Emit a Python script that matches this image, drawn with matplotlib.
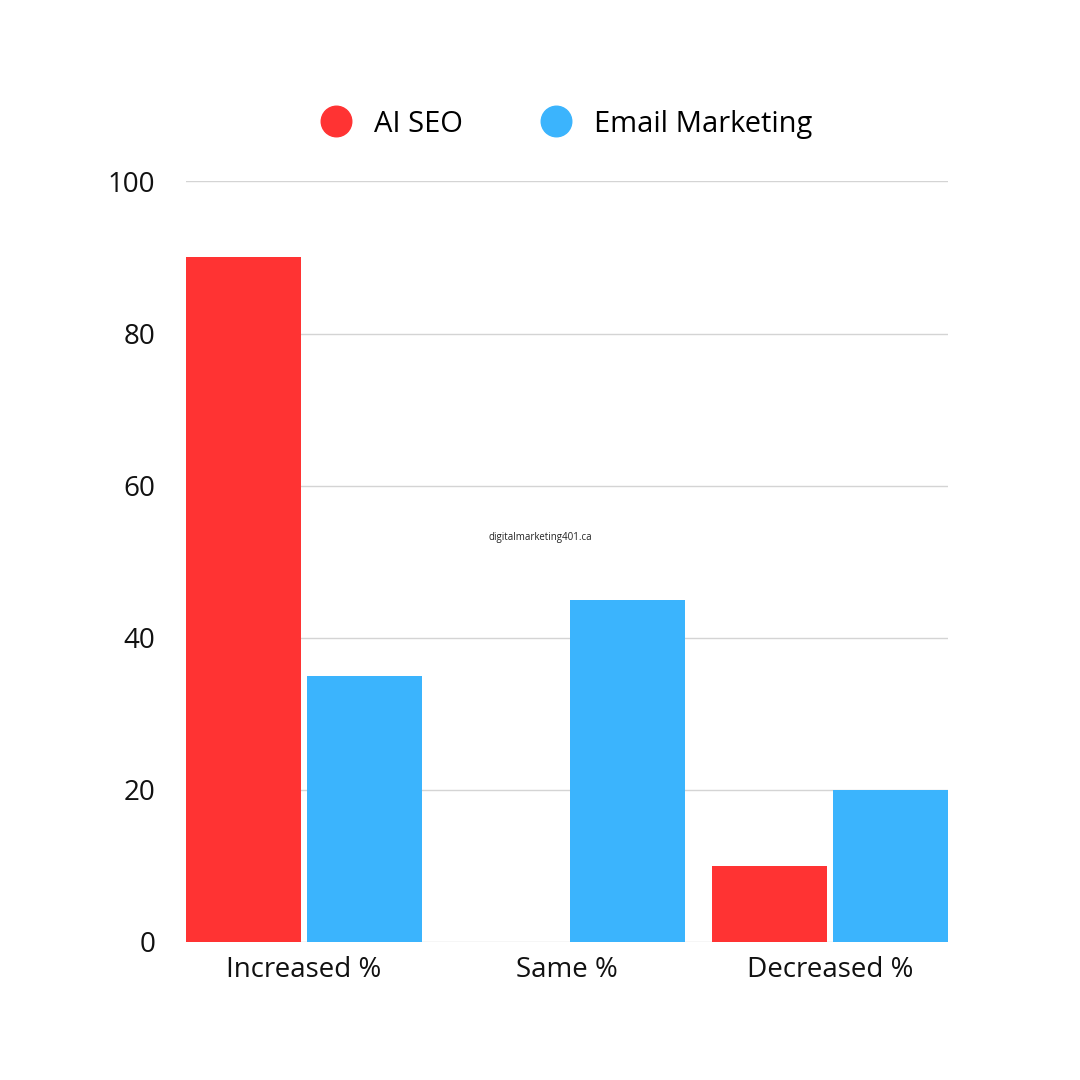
import matplotlib.pyplot as plt
import numpy as np
from matplotlib.lines import Line2D

categories = ["Increased %", "Same %", "Decreased %"]
ai_seo = [90, 0, 10]
email_marketing = [35, 45, 20]
series_names = ["AI SEO", "Email Marketing"]
colors = ["#ff3333", "#3bb4fd"]

plt.rcParams["font.family"] = "Open Sans"

fig = plt.figure(figsize=(10.8, 10.8), dpi=100)
ax = fig.add_axes([0.172, 0.128, 0.706, 0.704])

x = np.arange(len(categories))
w = 0.437
off = 0.23
ax.bar(x - off, ai_seo, w, color=colors[0], zorder=3)
ax.bar(x + off, email_marketing, w, color=colors[1], zorder=3)

ax.set_xlim(-0.449, 2.449)
ax.set_ylim(0, 100)
ax.set_yticks([0, 20, 40, 60, 80, 100])
ax.set_xticks(x)
ax.set_xticklabels(categories)
ax.tick_params(length=0, labelsize=20, colors="#111111")
ax.tick_params(axis="y", pad=22)
ax.tick_params(axis="x", pad=10)
ax.grid(axis="y", color="#d4d4d4", linewidth=1, zorder=0)
for s in ax.spines.values():
    s.set_visible(False)

handles = [Line2D([], [], marker="o", linestyle="", markersize=22, color=c) for c in colors]
fig.legend(handles, series_names, loc="center", bbox_to_anchor=(0.518, 0.885), ncol=2,
           frameon=False, fontsize=21, handletextpad=0.3, columnspacing=2.2)

fig.text(0.5, 0.502, "digitalmarketing401.ca", ha="center", va="center", fontsize=7, color="#222222")

fig.savefig("out.png", dpi=100, facecolor="white")
